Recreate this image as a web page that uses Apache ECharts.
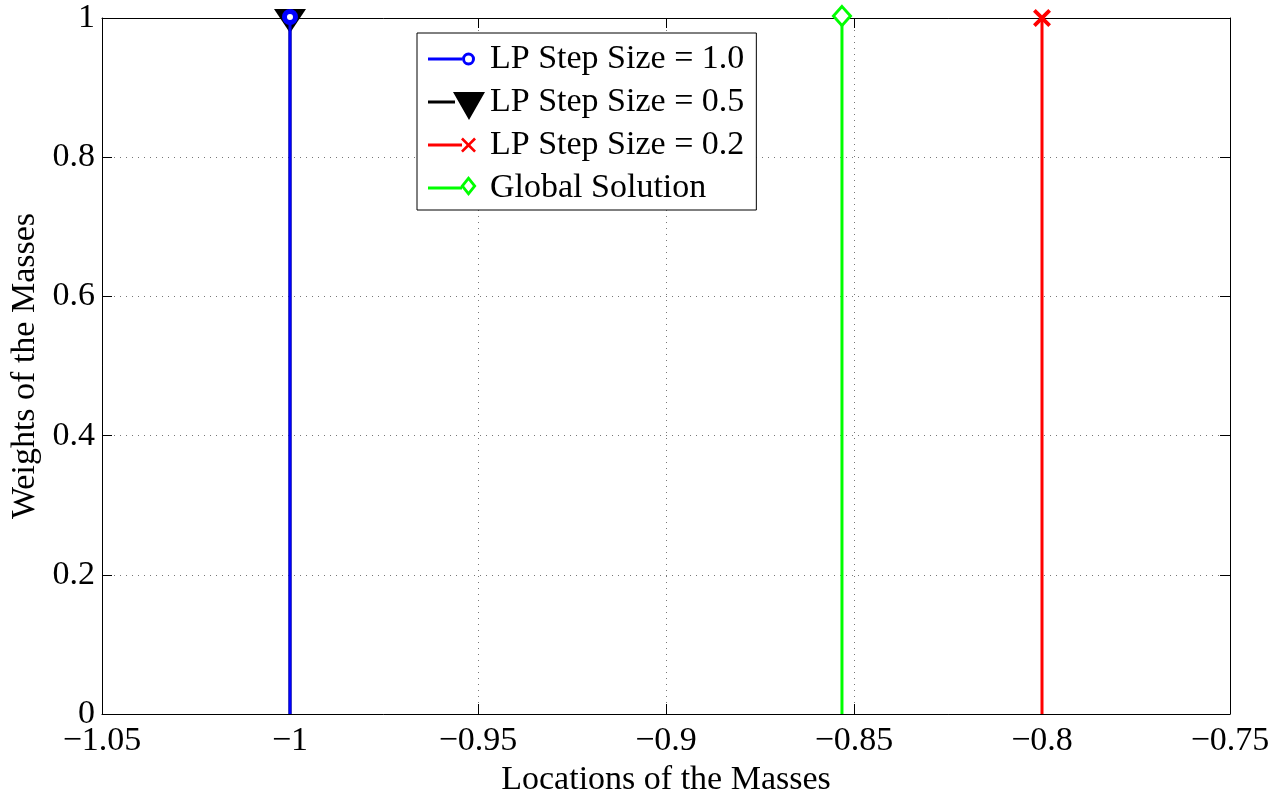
<!DOCTYPE html>
<html>
<head>
<meta charset="utf-8">
<script src="https://cdn.jsdelivr.net/npm/echarts@6/dist/echarts.min.js"></script>
<style>html,body{margin:0;padding:0;background:#fff}#c{width:1274px;height:794px}</style>
</head>
<body>
<div id="c"></div>
<script>
// ---- data ----
const seriesNames = ['LP Step Size = 1.0', 'LP Step Size = 0.5', 'LP Step Size = 0.2', 'Global Solution'];
const massLocations = [-1.0, -1.0, -0.8, -0.8532];
const massWeights = [1, 1, 1, 1];
const xTicks = [-1.05, -1, -0.95, -0.9, -0.85, -0.8, -0.75];
const yTicks = [0, 0.2, 0.4, 0.6, 0.8, 1];

// ---- styles ----
const colors = ['#0000ff', '#000000', '#ff0000', '#00ff00'];
const FONT = 'Liberation Serif';
const xPath = 'path://M0,3L3,0L10,7L17,0L20,3L13,10L20,17L17,20L10,13L3,20L0,17L7,10Z';
const symbols = [
  {symbol: 'circle', size: 11, rotate: 0, fill: '#fff', bw: 5, off: [0, -1]},
  {symbol: 'triangle', size: [32, 24], rotate: 180, fill: '#000', bw: 0, off: [0, 3]},
  {symbol: xPath, size: 18, rotate: 0, fill: '#ff0000', bw: 0, off: [0, 0]},
  {symbol: 'diamond', size: [17, 19], rotate: 0, fill: '#fff', bw: 3, off: [0, -2]}
];
const zs = [5, 4, 3, 3];

// legend icons: line + marker at the right end (box 57 x 36, line at y=18)
const legendIcons = [
  'path://M0,0M57,36M0,16.5L34,16.5L34,19.5L0,19.5Z' +
    'M47,18A6.5,6.5 0 1,0 34,18A6.5,6.5 0 1,0 47,18Z' +
    'M44,18A3.5,3.5 0 1,1 37,18A3.5,3.5 0 1,1 44,18Z',
  'path://M0,0M57,36M0,16.5L27,16.5L27,19.5L0,19.5ZM25,8L57,8L41,36Z',
  'path://M0,0M57,36M0,16.5L34,16.5L34,19.5L0,19.5Z' +
    'M33,12.375L34.875,10.5L40.5,16.125L46.125,10.5L48,12.375L42.375,18L48,23.625L46.125,25.5L40.5,19.875L34.875,25.5L33,23.625L38.625,18Z',
  'path://M0,0M57,36M0,16.5L34,16.5L34,19.5L0,19.5Z' +
    'M32.5,16L40.5,6L48.5,16L40.5,26ZM36.1,16L40.5,21.5L44.9,16L40.5,10.5Z'
];

const fmt = v => {
  const r = Math.round(v * 100) / 100;
  return (r < 0 ? '\u2212' : '') + String(Math.abs(r));
};

const series = seriesNames.map((name, i) => ({
  name,
  type: 'line',
  xAxisIndex: 0,
  yAxisIndex: 0,
  z: zs[i],
  data: [
    {value: [massLocations[i], 0], symbol: 'none'},
    {value: [massLocations[i], massWeights[i]]}
  ],
  symbol: symbols[i].symbol,
  symbolSize: symbols[i].size,
  symbolRotate: symbols[i].rotate,
  symbolOffset: symbols[i].off,
  showSymbol: true,
  showAllSymbol: true,
  clip: false,
  lineStyle: {color: colors[i], width: 3},
  itemStyle: {color: symbols[i].fill, borderColor: colors[i], borderWidth: symbols[i].bw},
  emphasis: {disabled: true},
  animation: false
}));

const splitDotted = {show: true, lineStyle: {color: '#777', type: [1, 5], width: 1}};
const axisLineBlack = {show: true, onZero: false, lineStyle: {color: '#000', width: 1}};
const tickIn = {show: true, inside: true, length: 10, lineStyle: {color: '#000'}};

const chart = echarts.init(document.getElementById('c'), null, {renderer: 'canvas'});
chart.setOption({
  animation: false,
  backgroundColor: '#fff',
  grid: {left: 102, right: 44, top: 18, bottom: 80, containLabel: false, outerBoundsMode: 'none'},
  legend: {
    orient: 'vertical',
    left: 417, top: 33,
    padding: [8, 12, 4, 11],
    itemGap: 7,
    itemWidth: 57, itemHeight: 36,
    backgroundColor: '#fff',
    borderColor: '#000', borderWidth: 1,
    textStyle: {fontFamily: FONT, fontSize: 34, color: '#000'},
    data: seriesNames.map((name, i) => ({
      name,
      icon: legendIcons[i],
      itemStyle: {color: colors[i], borderWidth: 0, opacity: 1}
    }))
  },
  xAxis: [
    {
      type: 'value', min: -1.05, max: -0.75, interval: 0.05, position: 'bottom',
      axisLine: axisLineBlack, axisTick: tickIn, splitLine: splitDotted,
      axisLabel: {formatter: fmt, fontFamily: FONT, fontSize: 34, color: '#000', margin: 10},
      name: 'Locations of the Masses', nameLocation: 'middle', nameGap: 37,
      nameTextStyle: {fontFamily: FONT, fontSize: 34, color: '#000'}
    },
    {
      type: 'value', min: -1.05, max: -0.75, interval: 0.05, position: 'top',
      axisLine: axisLineBlack, axisTick: tickIn, splitLine: {show: false}, axisLabel: {show: false}
    }
  ],
  yAxis: [
    {
      type: 'value', min: 0, max: 1, interval: 0.2, position: 'left',
      axisLine: axisLineBlack, axisTick: tickIn, splitLine: splitDotted,
      axisLabel: {formatter: fmt, fontFamily: FONT, fontSize: 34, color: '#000', margin: 7},
      name: 'Weights of the Masses', nameLocation: 'middle', nameGap: 52,
      nameTextStyle: {fontFamily: FONT, fontSize: 34, color: '#000'}
    },
    {
      type: 'value', min: 0, max: 1, interval: 0.2, position: 'right',
      axisLine: axisLineBlack, axisTick: tickIn, splitLine: {show: false}, axisLabel: {show: false}
    }
  ],
  series
});
</script>
</body>
</html>
